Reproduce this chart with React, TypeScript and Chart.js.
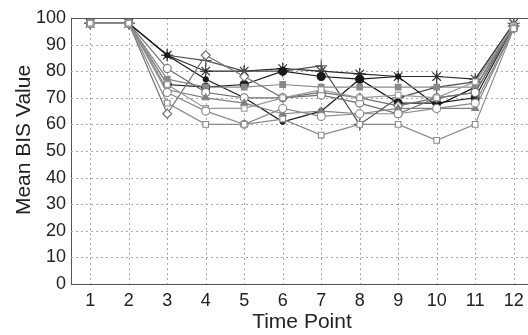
import React, { useEffect, useRef } from "react";
import { Chart, registerables } from "chart.js";

Chart.register(...registerables);

const timePoints = [1, 2, 3, 4, 5, 6, 7, 8, 9, 10, 11, 12];
const yTicks = [0, 10, 20, 30, 40, 50, 60, 70, 80, 90, 100];
const xTitle = "Time Point";
const yTitle = "Mean BIS Value";

const asteriskSeries = [98, 98, 86, 80, 80, 81, 80, 79, 78, 78, 77, 98];
const plusSeries = [98, 98, 86, 84, 80, 80, 82, 60, 70, 74, 76, 97];
const blackDotSeries = [98, 98, 86, 77, 70, 61, 65, 77, 78, 67, 74, 97];
const blackCircleSeries = [98, 98, 75, 74, 75, 80, 78, 77, 68, 68, 70, 97];
const graySquareSeries = [98, 98, 77, 74, 74, 75, 74, 74, 74, 74, 74, 97];
const grayTriangleSeries = [98, 98, 73, 70, 68, 64, 65, 64, 66, 66, 66, 96];
const diamondSeries = [98, 98, 64, 86, 78, 70, 72, 70, 67, 70, 72, 97];
const circleASeries = [98, 98, 81, 72, 70, 70, 71, 68, 64, 70, 72, 97];
const circleBSeries = [98, 98, 72, 65, 60, 66, 63, 64, 64, 66, 68, 96];
const squareLowSeries = [98, 98, 68, 60, 60, 62, 56, 60, 60, 54, 60, 96];
const squareOpenSeries = [98, 98, 75, 66, 66, 70, 73, 70, 71, 70, 76, 97];

type S = { data: number[]; color: string; style: any; fill: string; r: number };

const seriesList: S[] = [
  { data: squareLowSeries, color: "#8a8a8a", style: "rect", fill: "#ffffff", r: 4 },
  { data: circleBSeries, color: "#8a8a8a", style: "circle", fill: "#ffffff", r: 4 },
  { data: squareOpenSeries, color: "#999999", style: "rect", fill: "#ffffff", r: 4 },
  { data: grayTriangleSeries, color: "#808080", style: "triangle", fill: "#808080", r: 4 },
  { data: circleASeries, color: "#707070", style: "circle", fill: "#ffffff", r: 4 },
  { data: diamondSeries, color: "#707070", style: "rectRot", fill: "#ffffff", r: 4.5 },
  { data: graySquareSeries, color: "#8a8a8a", style: "rect", fill: "#8a8a8a", r: 4 },
  { data: blackDotSeries, color: "#1a1a1a", style: "circle", fill: "#1a1a1a", r: 2.5 },
  { data: blackCircleSeries, color: "#1a1a1a", style: "circle", fill: "#1a1a1a", r: 4 },
  { data: plusSeries, color: "#505050", style: "cross", fill: "#505050", r: 6 },
  { data: asteriskSeries, color: "#2a2a2a", style: "star", fill: "#2a2a2a", r: 6 },
];

export default function App() {
  const ref = useRef<HTMLCanvasElement | null>(null);
  useEffect(() => {
    document.body.style.margin = "0";
    if (!ref.current) return;
    const font = "'Liberation Sans', Arial, Helvetica, sans-serif";
    const chart = new Chart(ref.current, {
      type: "line",
      data: {
        datasets: seriesList.map((s, i) => ({
          label: "S" + i,
          data: s.data.map((v, j) => ({ x: timePoints[j], y: v })),
          borderColor: s.color,
          backgroundColor: s.fill,
          pointBackgroundColor: s.fill,
          pointBorderColor: s.color,
          pointStyle: s.style,
          pointRadius: s.r,
          pointBorderWidth: 1.1,
          borderWidth: 1.2,
          tension: 0,
        })),
      },
      options: {
        animation: false,
        responsive: false,
        maintainAspectRatio: false,
        layout: { padding: { top: 18, right: 0, left: 0, bottom: 0 } },
        plugins: { legend: { display: false }, tooltip: { enabled: false } },
        scales: {
          x: {
            type: "linear",
            min: 0.5,
            max: 12.5,
            afterBuildTicks: (scale: any) => {
              scale.ticks = timePoints.map((v) => ({ value: v }));
            },
            afterFit: (scale: any) => {
              scale.height = 51;
            },
            ticks: {
              color: "#222",
              font: { family: font, size: 18 },
              padding: 6,
              maxRotation: 0,
              autoSkip: false,
            },
            grid: { display: false, drawTicks: false, tickLength: 0 },
            border: { display: true, color: "#555", width: 1 },
            title: {
              display: true,
              text: xTitle,
              color: "#222",
              font: { family: font, size: 21 },
              padding: { top: 1, bottom: 0 },
            },
          },
          y: {
            type: "linear",
            min: 0,
            max: 100,
            afterBuildTicks: (scale: any) => {
              scale.ticks = yTicks.map((v) => ({ value: v }));
            },
            afterFit: (scale: any) => {
              scale.width = 71;
            },
            ticks: {
              color: "#222",
              font: { family: font, size: 18 },
              padding: 5,
            },
            grid: { display: false, drawTicks: false, tickLength: 0 },
            border: { display: true, color: "#555", width: 1 },
            title: { display: false },
          },
        },
      },
      plugins: [
        {
          id: "dashedGrid",
          beforeDatasetsDraw: (c: any) => {
            const { ctx, chartArea, scales } = c;
            ctx.save();
            ctx.strokeStyle = "#a8a8a8";
            ctx.lineWidth = 1;
            ctx.setLineDash([2, 3]);
            ctx.beginPath();
            for (const v of timePoints) {
              const x = Math.round(scales.x.getPixelForValue(v)) + 0.5;
              ctx.moveTo(x, chartArea.top);
              ctx.lineTo(x, chartArea.bottom);
            }
            for (const v of yTicks) {
              if (v === 0 || v === 100) continue;
              const y = Math.round(scales.y.getPixelForValue(v)) + 0.5;
              ctx.moveTo(chartArea.left, y);
              ctx.lineTo(chartArea.right, y);
            }
            ctx.stroke();
            ctx.restore();
          },
        },
        {
          id: "frameAndTitle",
          afterDraw: (c: any) => {
            const { ctx, chartArea } = c;
            ctx.save();
            ctx.strokeStyle = "#555";
            ctx.lineWidth = 1;
            ctx.setLineDash([]);
            ctx.beginPath();
            ctx.moveTo(chartArea.left, Math.round(chartArea.top) + 0.5);
            ctx.lineTo(chartArea.right, Math.round(chartArea.top) + 0.5);
            ctx.stroke();
            ctx.translate(24, 140);
            ctx.rotate(-Math.PI / 2);
            ctx.fillStyle = "#222";
            ctx.font = "21px " + font;
            ctx.textAlign = "center";
            ctx.textBaseline = "middle";
            ctx.fillText(yTitle, 0, 0);
            ctx.restore();
          },
        },
      ],
    } as any);
    return () => chart.destroy();
  }, []);
  return (
    <div style={{ width: 528, height: 335, overflow: "hidden", background: "#fff" }}>
      <canvas ref={ref} width={540} height={335} style={{ display: "block" }} />
    </div>
  );
}
